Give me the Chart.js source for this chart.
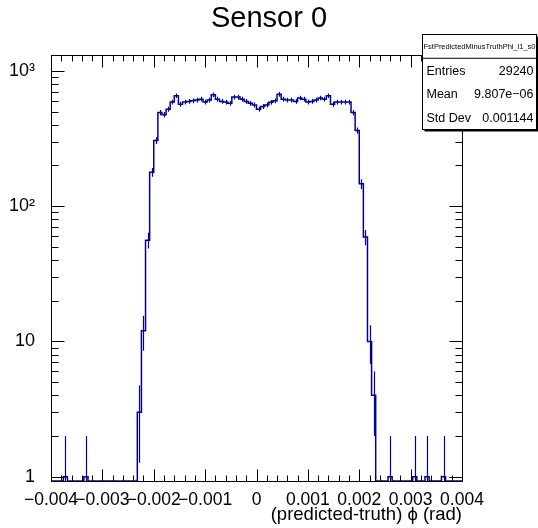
<!DOCTYPE html>
<html>
<head>
<meta charset="utf-8">
<script src="https://cdn.jsdelivr.net/npm/chart.js@4.4.0/dist/chart.umd.min.js"></script>
<style>
  html, body { margin: 0; padding: 0; background: #fff; }
</style>
</head>
<body>
<canvas id="myChart" width="538" height="528"></canvas>
<script>
// histogram: 100 bins from X_MIN to X_MAX
const X_MIN = -0.004;
const X_MAX = 0.004;
const COUNTS = [
  0, 0, 0, 1, 0, 0, 0, 0, 1, 0,
  0, 0, 0, 0, 0, 0, 0, 0, 0, 0,
  0, 3, 12, 56, 178, 305, 492, 474, 520, 587,
  654, 566, 587, 594, 600, 608, 617, 587, 608, 665,
  617, 594, 587, 575, 640, 640, 617, 594, 575, 560,
  520, 545, 560, 585, 600, 670, 617, 608, 608, 594,
  630, 617, 587, 594, 608, 630, 617, 655, 566, 587,
  587, 587, 587, 492, 362, 146, 59, 10, 4, 0,
  0, 0, 1, 0, 0, 0, 0, 0, 1, 0,
  0, 1, 0, 0, 0, 1, 0, 0, 0, 0
];
const X_TICKS = [-0.004, -0.003, -0.002, -0.001, 0, 0.001, 0.002, 0.003, 0.004];
const X_TICK_LABELS = ['\u22120.004', '\u22120.003', '\u22120.002', '\u22120.001', '0', '0.001', '0.002', '0.003', '0.004'];
const Y_MIN = 0.93;
const Y_MAX = 1313;
const Y_TICKS = [1, 10, 100, 1000];
const Y_TICK_LABELS = ['1', '10', '10\u00b2', '10\u00b3'];
const STATS_NAME = 'FstPredictedMinusTruthPhi_l1_s0';
const STATS_LABELS = ['Entries', 'Mean', 'Std Dev'];
const STATS_VALUES = ['29240', '9.807e\u221206', '0.001144'];

const FONT = "'Liberation Sans', Arial, Helvetica, sans-serif";
const LINE_COLOR = '#000099';

const nBins = COUNTS.length;
const binW = (X_MAX - X_MIN) / nBins;

// step outline: one point per low edge, plus the last upper edge
const stepData = COUNTS.map((c, i) => ({ x: X_MIN + i * binW, y: c > 0 ? c : Y_MIN }));
stepData.push({ x: X_MAX, y: COUNTS[nBins - 1] > 0 ? COUNTS[nBins - 1] : Y_MIN });

const errorBars = {
    id: 'errorBars',
    afterDatasetsDraw(chart) {
        const { ctx, chartArea, scales } = chart;
        ctx.save();
        ctx.beginPath();
        ctx.rect(chartArea.left, chartArea.top, chartArea.right - chartArea.left, chartArea.bottom - chartArea.top);
        ctx.clip();
        ctx.strokeStyle = LINE_COLOR;
        ctx.lineWidth = 1.2;
        COUNTS.forEach((c, i) => {
            if (c <= 0) return;
            const e = Math.sqrt(c);
            const px = Math.round(scales.x.getPixelForValue(X_MIN + (i + 0.5) * binW)) + 0.5;
            const lo = c - e > Y_MIN ? scales.y.getPixelForValue(c - e) : chartArea.bottom;
            const hi = scales.y.getPixelForValue(c + e);
            ctx.beginPath();
            ctx.moveTo(px, lo);
            ctx.lineTo(px, hi);
            ctx.stroke();
        });
        ctx.restore();
    }
};

const frame = {
    id: 'frame',
    afterDraw(chart) {
        const { ctx, chartArea: a, scales } = chart;
        const L = Math.round(a.left) + 0.5, R = Math.round(a.right) + 0.5;
        const T = Math.round(a.top) + 0.5, B = Math.round(a.bottom) + 0.5;
        ctx.save();
        ctx.strokeStyle = '#000';
        ctx.lineWidth = 1;
        ctx.strokeRect(L, T, R - L, B - T);
        ctx.beginPath();
        // x ticks, bottom and top, pointing inward
        for (let k = 0; k <= 40; k++) {
            const v = X_MIN + k * 0.0002;
            const px = Math.round(scales.x.getPixelForValue(v)) + 0.5;
            const len = k % 5 === 0 ? 12 : 6;
            ctx.moveTo(px, B); ctx.lineTo(px, B - len);
            ctx.moveTo(px, T); ctx.lineTo(px, T + len);
        }
        // log y ticks, left and right
        for (let d = 1; d <= 1000; d *= 10) {
            for (let m = 1; m <= 9; m++) {
                const v = d * m;
                if (v < Y_MIN || v > Y_MAX) continue;
                const py = Math.round(scales.y.getPixelForValue(v)) + 0.5;
                const len = m === 1 ? 13 : 7;
                ctx.moveTo(L, py); ctx.lineTo(L + len, py);
                ctx.moveTo(R, py); ctx.lineTo(R - len, py);
            }
        }
        ctx.stroke();

        // stats box
        const bx = 422.5, by = 34.5, bw = 114, rowH = 23.75;
        const bh = rowH * 4;
        ctx.fillStyle = '#000';
        ctx.fillRect(bx + 2, by + 2, bw, bh);
        ctx.fillStyle = '#fff';
        ctx.fillRect(bx, by, bw, bh);
        ctx.strokeRect(bx, by, bw, bh);
        ctx.beginPath();
        ctx.moveTo(bx, by + rowH); ctx.lineTo(bx + bw, by + rowH);
        ctx.stroke();
        ctx.fillStyle = '#000';
        ctx.textBaseline = 'middle';
        ctx.textAlign = 'center';
        ctx.font = '8px ' + FONT;
        ctx.fillText(STATS_NAME, bx + bw / 2, by + rowH / 2, bw - 2);
        ctx.font = '12.5px ' + FONT;
        STATS_LABELS.forEach((lab, i) => {
            const y = by + rowH * (i + 1.5) + 1;
            ctx.textAlign = 'left';
            ctx.fillText(lab, bx + 4, y);
            ctx.textAlign = 'right';
            ctx.fillText(STATS_VALUES[i], bx + bw - 3, y);
        });
        ctx.restore();
    }
};

new Chart(document.getElementById('myChart'), {
    type: 'line',
    data: {
        datasets: [{
            label: STATS_NAME,
            data: stepData,
            stepped: 'before',
            borderColor: LINE_COLOR,
            borderWidth: 1.5,
            pointRadius: 0,
            fill: false,
            tension: 0
        }]
    },
    options: {
        responsive: false,
        animation: false,
        events: [],
        layout: { padding: 0 },
        scales: {
            x: {
                type: 'linear',
                min: X_MIN,
                max: X_MAX,
                afterBuildTicks: s => { s.ticks = X_TICKS.map(v => ({ value: v })); },
                afterFit: s => { s.height = 47; },
                grid: { display: false },
                border: { display: false },
                ticks: {
                    autoSkip: false,
                    maxRotation: 0,
                    padding: 1,
                    color: '#000',
                    font: { family: FONT, size: 17.5 },
                    callback: (v, i) => X_TICK_LABELS[i]
                },
                title: {
                    display: true,
                    text: '(predicted-truth) \u03d5 (rad)',
                    align: 'end',
                    color: '#000',
                    font: { family: FONT, size: 18.5 },
                    padding: { top: 0, bottom: 2 }
                }
            },
            y: {
                type: 'logarithmic',
                min: Y_MIN,
                max: Y_MAX,
                afterBuildTicks: s => { s.ticks = Y_TICKS.map(v => ({ value: v })); },
                afterFit: s => { s.width = 51; },
                grid: { display: false },
                border: { display: false },
                ticks: {
                    padding: 8,
                    color: '#000',
                    font: { family: FONT, size: 18 },
                    callback: (v, i) => Y_TICK_LABELS[i]
                }
            },
            // empty scale that keeps room on the right for the stats box
            r: {
                type: 'linear',
                position: 'right',
                afterFit: s => { s.width = 76; },
                grid: { display: false },
                border: { display: false },
                ticks: { display: false }
            }
        },
        plugins: {
            legend: { display: false },
            tooltip: { enabled: false },
            title: {
                display: true,
                text: 'Sensor 0',
                color: '#000',
                font: { family: FONT, size: 29, weight: 'normal' },
                padding: { top: 2, bottom: 18 }
            }
        }
    },
    plugins: [errorBars, frame]
});
</script>
</body>
</html>
